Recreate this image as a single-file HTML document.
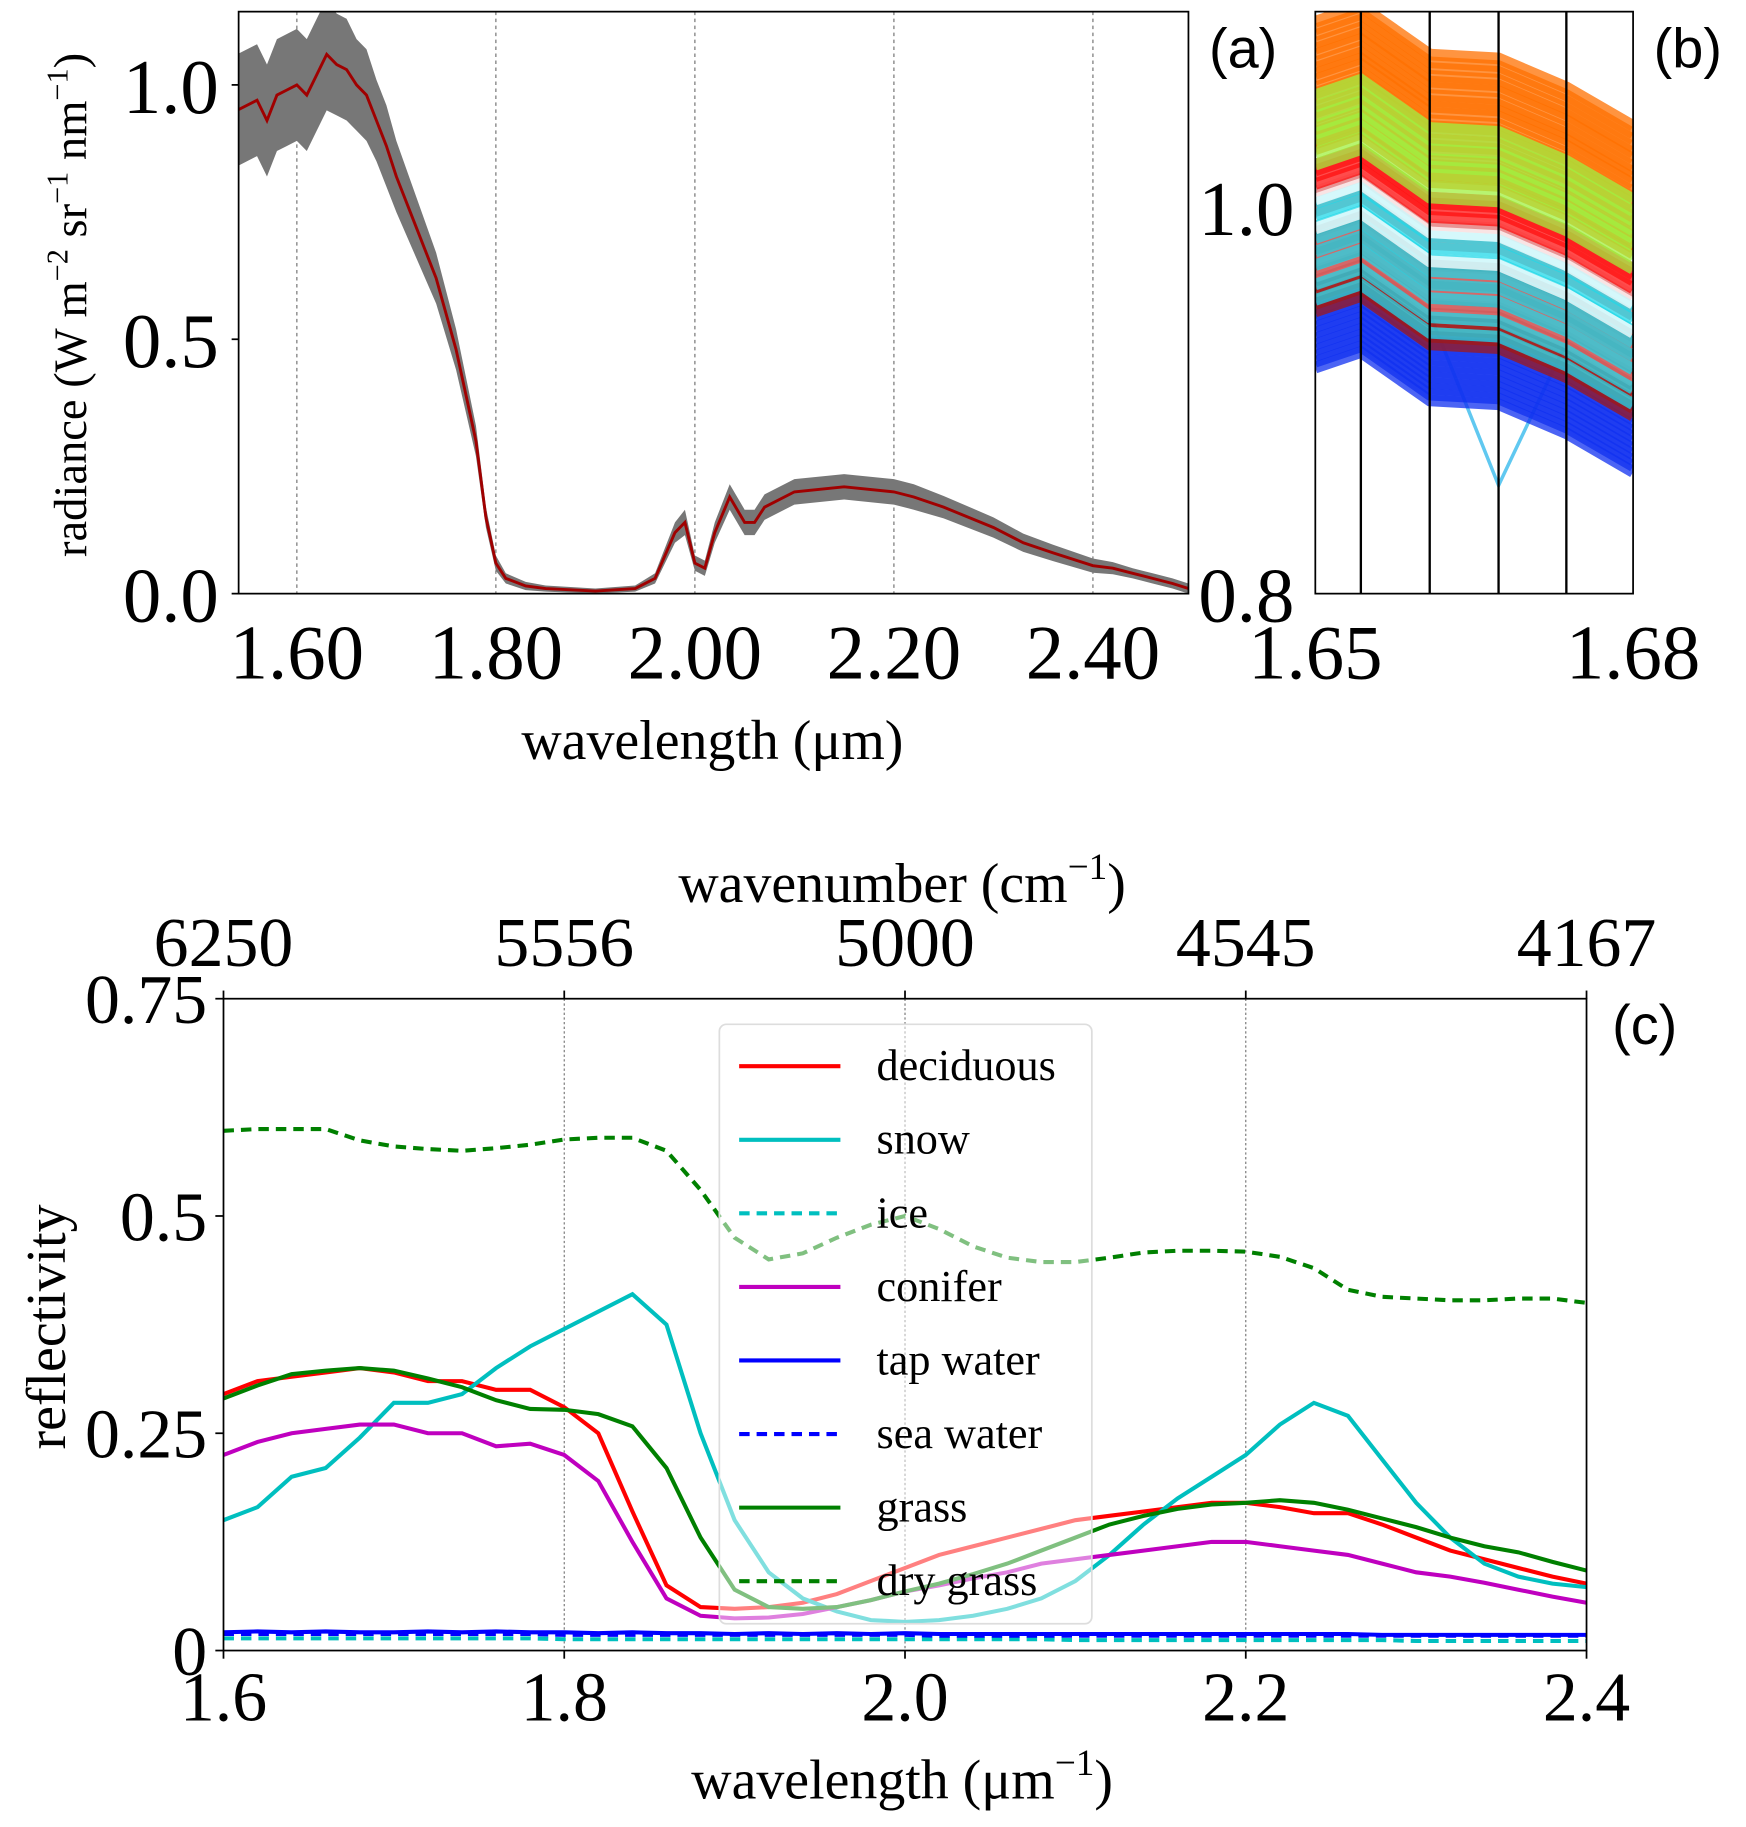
<!DOCTYPE html>
<html><head><meta charset="utf-8"><style>
html,body{margin:0;padding:0;background:#fff;}
svg{display:block;}
text{font-family:"Liberation Serif",serif;fill:#000;}
.lab{font-family:"Liberation Sans",sans-serif;}
</style></head><body>
<svg id="fig" width="1746" height="1827" viewBox="0 0 1500 1569.6" xmlns="http://www.w3.org/2000/svg">
<g id="pa"></g>
<g id="pb"></g>
<g id="pc"></g>
</svg>
<script>
// ---------- Panel (a) data ----------
const aWl = [1.54,1.56,1.57,1.58,1.59,1.60,1.61,1.62,1.63,1.64,1.65,1.66,1.67,1.68,1.69,1.70,1.72,1.74,1.76,1.78,1.79,1.80,1.81,1.83,1.85,1.90,1.94,1.96,1.98,1.99,2.00,2.01,2.02,2.035,2.05,2.06,2.07,2.10,2.15,2.20,2.22,2.25,2.30,2.33,2.36,2.40,2.42,2.44,2.46,2.48,2.496];
const aRad = [0.95,0.97,0.93,0.98,0.99,1.0,0.98,1.02,1.06,1.04,1.03,1.0,0.98,0.93,0.88,0.82,0.72,0.62,0.48,0.30,0.15,0.06,0.03,0.015,0.01,0.005,0.01,0.03,0.12,0.14,0.06,0.05,0.12,0.19,0.14,0.14,0.17,0.20,0.21,0.20,0.19,0.17,0.13,0.10,0.08,0.055,0.05,0.04,0.03,0.02,0.01];
const aSpread = [0.11,0.11,0.11,0.11,0.11,0.11,0.11,0.11,0.11,0.1,0.1,0.09,0.09,0.08,0.08,0.07,0.06,0.05,0.04,0.03,0.02,0.015,0.01,0.008,0.006,0.005,0.006,0.01,0.02,0.025,0.015,0.015,0.02,0.025,0.025,0.025,0.025,0.025,0.025,0.025,0.025,0.022,0.02,0.018,0.016,0.014,0.012,0.01,0.01,0.01,0.01];
const aXTicks = [1.60,1.80,2.00,2.20,2.40];
const aXTickLabels = ["1.60","1.80","2.00","2.20","2.40"];
const aYTicks = [0.0,0.5,1.0];
const aYTickLabels = ["0.0","0.5","1.0"];
// ---------- Panel (b) data ----------
const bWl = [1.65,1.6543,1.6608,1.6673,1.6737,1.68];
const bShape = [-0.008,0,-0.025,-0.027,-0.042,-0.062];
const bOrange = [1.104,1.100,1.097,1.093,1.090,1.087,1.083,1.080,1.077,1.074,1.070,1.067,1.064,1.060,1.057,1.054,1.050,1.047,1.044,1.041,1.038];
const bGreen = [1.066,1.060,1.055,1.050,1.046,1.042,1.036,1.030];
const bRed = [1.030,1.027,1.024,1.020];
const bWhite = [1.021,1.012,0.997];
const bCyan = [1.010,1.004,0.998,0.992,0.985,0.978,0.968,0.960];
const bSalmon = [1.016,1.006,0.990,0.980,0.972];
const bDarkRed = [0.995,0.990,0.985,0.980,0.975,0.970,0.966,0.962,0.958,0.954];
const bBlue = [0.958,0.955,0.952,0.949,0.946,0.943,0.940,0.937,0.934,0.931,0.928,0.925];
const bOutlier = [0.92,0.93,0.945,0.856,0.93,0.94];
const bXTicks = [1.65,1.68];
const bXTickLabels = ["1.65","1.68"];
const bYTicks = [0.8,1.0];
const bYTickLabels = ["0.8","1.0"];
// ---------- Panel (c) data ----------
const cWl = [1.60,1.62,1.64,1.66,1.68,1.70,1.72,1.74,1.76,1.78,1.80,1.82,1.84,1.86,1.88,1.90,1.92,1.94,1.96,1.98,2.00,2.02,2.04,2.06,2.08,2.10,2.12,2.14,2.16,2.18,2.20,2.22,2.24,2.26,2.28,2.30,2.32,2.34,2.36,2.38,2.40];
const deciduous = [0.295,0.31,0.315,0.32,0.325,0.32,0.31,0.31,0.30,0.30,0.28,0.25,0.16,0.075,0.05,0.048,0.05,0.055,0.065,0.08,0.095,0.11,0.12,0.13,0.14,0.15,0.155,0.16,0.165,0.17,0.17,0.165,0.158,0.158,0.145,0.13,0.115,0.105,0.095,0.085,0.077];
const snow = [0.15,0.165,0.20,0.21,0.245,0.285,0.285,0.295,0.325,0.35,0.37,0.39,0.41,0.375,0.25,0.15,0.09,0.06,0.045,0.035,0.033,0.035,0.04,0.048,0.06,0.08,0.11,0.145,0.175,0.20,0.225,0.26,0.285,0.27,0.22,0.17,0.13,0.10,0.085,0.077,0.073];
const ice = [0.014,0.014,0.014,0.014,0.014,0.014,0.014,0.014,0.014,0.014,0.013,0.013,0.013,0.013,0.013,0.013,0.013,0.013,0.013,0.013,0.013,0.013,0.013,0.013,0.013,0.012,0.012,0.012,0.012,0.012,0.012,0.012,0.012,0.012,0.012,0.011,0.011,0.011,0.011,0.011,0.011];
const conifer = [0.225,0.24,0.25,0.255,0.26,0.26,0.25,0.25,0.235,0.238,0.225,0.195,0.125,0.06,0.04,0.037,0.038,0.042,0.05,0.058,0.068,0.075,0.083,0.09,0.10,0.105,0.11,0.115,0.12,0.125,0.125,0.12,0.115,0.11,0.10,0.09,0.085,0.078,0.07,0.062,0.055];
const tapWater = [0.021,0.022,0.021,0.022,0.021,0.021,0.022,0.021,0.022,0.021,0.021,0.02,0.021,0.02,0.02,0.019,0.02,0.019,0.02,0.019,0.02,0.019,0.019,0.019,0.019,0.019,0.019,0.019,0.019,0.019,0.019,0.019,0.019,0.019,0.018,0.018,0.018,0.018,0.018,0.018,0.018];
const seaWater = [0.019,0.019,0.019,0.019,0.019,0.019,0.019,0.019,0.019,0.019,0.018,0.018,0.018,0.018,0.018,0.018,0.018,0.018,0.018,0.018,0.018,0.017,0.017,0.017,0.017,0.017,0.017,0.017,0.017,0.017,0.017,0.017,0.017,0.017,0.017,0.017,0.017,0.017,0.017,0.017,0.017];
const grass = [0.29,0.305,0.318,0.322,0.325,0.322,0.313,0.303,0.288,0.278,0.277,0.272,0.258,0.21,0.13,0.07,0.05,0.048,0.05,0.058,0.068,0.077,0.088,0.10,0.115,0.13,0.145,0.155,0.163,0.168,0.17,0.173,0.17,0.162,0.152,0.142,0.13,0.12,0.113,0.102,0.092];
const dryGrass = [0.598,0.60,0.60,0.60,0.587,0.58,0.577,0.575,0.578,0.582,0.588,0.59,0.59,0.575,0.53,0.475,0.45,0.457,0.475,0.49,0.50,0.485,0.465,0.452,0.447,0.447,0.452,0.458,0.46,0.46,0.459,0.453,0.44,0.415,0.407,0.405,0.403,0.403,0.405,0.405,0.40];
const cXTicks = [1.6,1.8,2.0,2.2,2.4];
const cXTickLabels = ["1.6","1.8","2.0","2.2","2.4"];
const cTopLabels = ["6250","5556","5000","4545","4167"];
const cYTicks = [0,0.25,0.5,0.75];
const cYTickLabels = ["0","0.25","0.5","0.75"];

const NS="http://www.w3.org/2000/svg";
function mk(parent,tag,attrs,txt){const e=document.createElementNS(NS,tag);for(const k in attrs)e.setAttribute(k,attrs[k]);if(txt!==undefined)e.textContent=txt;parent.appendChild(e);return e;}
function pathD(xs,ys,sx,sy){return xs.map((x,i)=>(i?'L':'M')+sx(x).toFixed(2)+' '+sy(ys[i]).toFixed(2)).join(' ');}

// ===== Panel A =====
(function(){
const g=document.getElementById('pa');
const L=205,R=1021,T=10,B=510;
const sx=x=>L+(x-1.5415)/(2.496-1.5415)*(R-L);
const sy=y=>B-(y/1.144)*(B-T);
const cp=mk(g,'clipPath',{id:'clipA'});mk(cp,'rect',{x:L,y:T,width:R-L,height:B-T});
aXTicks.forEach((t,i)=>{
  const gl=mk(g,'line',{x1:sx(t),x2:sx(t),y1:T,y2:B,stroke:'#888','stroke-width':1.2,'stroke-dasharray':'3,3'});
  
  const tl=mk(g,'text',{x:sx(t),y:583,'font-size':66,'text-anchor':'middle'},aXTickLabels[i]);
  
});
aYTicks.forEach((t,i)=>{
  const tl=mk(g,'text',{x:188,y:sy(t)+24,'font-size':66,'text-anchor':'end'},aYTickLabels[i]);
  
  mk(g,'line',{x1:L-6,x2:L,y1:sy(t),y2:sy(t),stroke:'#000','stroke-width':1.5});
});
const upper=aRad.map((v,i)=>v+aSpread[i]), lower=aRad.map((v,i)=>Math.max(0,v-aSpread[i]));
let d=pathD(aWl,upper,sx,sy)+' '+aWl.slice().reverse().map((x,i)=>'L'+sx(x).toFixed(2)+' '+sy(lower[lower.length-1-i]).toFixed(2)).join(' ')+'Z';
const band=mk(g,'path',{d:d,fill:'#777','clip-path':'url(#clipA)'});

const ml=mk(g,'path',{d:pathD(aWl,aRad,sx,sy),fill:'none',stroke:'#a00000','stroke-width':2.5,'clip-path':'url(#clipA)'});

const fr=mk(g,'rect',{x:L,y:T,width:R-L,height:B-T,fill:'none',stroke:'#000','stroke-width':1.5});

const xl=mk(g,'text',{x:612,y:652,'font-size':48,'text-anchor':'middle'},'wavelength (μm)');

const yl=mk(g,'text',{x:0,y:0,'font-size':40,'text-anchor':'middle',transform:'translate(74,262) rotate(-90)'});
yl.innerHTML='radiance (W m<tspan font-size="26" dy="-16">−2</tspan><tspan dy="16"> sr</tspan><tspan font-size="26" dy="-16">−1</tspan><tspan dy="16"> nm</tspan><tspan font-size="26" dy="-16">−1</tspan><tspan dy="16">)</tspan>';

const pl=mk(g,'text',{x:1068,y:58,'font-size':48,'text-anchor':'middle','class':'lab'},'(a)');

})();

// ===== Panel B =====
(function(){
const g=document.getElementById('pb');
const L=1130,R=1403,T=10,B=510;
const sx=x=>L+(x-1.65)/(0.03)*(R-L);
const sy=y=>B-(y-0.8)/0.2*(B-178);
const cp=mk(g,'clipPath',{id:'clipB'});mk(cp,'rect',{x:L,y:T,width:R-L,height:B-T});
const ol=mk(g,'path',{d:pathD(bWl.slice(2,5),bOutlier.slice(2,5),sx,sy),fill:'none',stroke:'#60c8f0','stroke-width':3,'clip-path':'url(#clipB)'});

const groups=[[bBlue,'#1030f0'],[bDarkRed,'#a01818'],[bSalmon,'#e07070'],[bCyan,'#20d8e8'],[bWhite,'#ffffff'],[bRed,'#ff1010'],[bGreen,'#a0f040'],[bOrange,'#ff7000']];
const order=[0,1,2,3,4,5,7,6];
order.forEach(gi=>{
  const [arr,col]=groups[gi];
  arr.forEach(v=>{
    const ys=bShape.map(s=>v+s);
    const p=mk(g,'path',{d:pathD(bWl,ys,sx,sy),fill:'none',stroke:col,'stroke-width':10,'stroke-opacity':0.75,'clip-path':'url(#clipB)'});
    
  });
});
bWl.slice(1,5).forEach(w=>{
  const vl=mk(g,'line',{x1:sx(w),x2:sx(w),y1:T,y2:B,stroke:'#000','stroke-width':2});
  
});
const fr=mk(g,'rect',{x:L,y:T,width:R-L,height:B-T,fill:'none',stroke:'#000','stroke-width':1.5});

bXTicks.forEach((t,i)=>{const tl=mk(g,'text',{x:sx(t),y:583,'font-size':66,'text-anchor':'middle'},bXTickLabels[i]);
});
bYTicks.forEach((t,i)=>{const tl=mk(g,'text',{x:1112,y:sy(t)+24,'font-size':66,'text-anchor':'end'},bYTickLabels[i]);
});
const pl=mk(g,'text',{x:1450,y:58,'font-size':48,'text-anchor':'middle','class':'lab'},'(b)');

})();

// ===== Panel C =====
(function(){
const g=document.getElementById('pc');
const L=192,R=1363,T=858,B=1418;
const sx=x=>L+(x-1.6)/0.8*(R-L);
const sy=y=>B-y/0.75*(B-T);
const cp=mk(g,'clipPath',{id:'clipC'});mk(cp,'rect',{x:L,y:T,width:R-L,height:B-T});
cXTicks.forEach((t,i)=>{
  if(i>0&&i<cXTicks.length-1){const gl=mk(g,'line',{x1:sx(t),x2:sx(t),y1:T,y2:B,stroke:'#777','stroke-width':1,'stroke-dasharray':'2,2'});
  }
  const tl=mk(g,'text',{x:sx(t),y:1478,'font-size':60,'text-anchor':'middle'},cXTickLabels[i]);
  
  const tt=mk(g,'text',{x:sx(t),y:830,'font-size':60,'text-anchor':'middle'},cTopLabels[i]);
  
  mk(g,'line',{x1:sx(t),x2:sx(t),y1:B,y2:B+7,stroke:'#000','stroke-width':1.5});
  mk(g,'line',{x1:sx(t),x2:sx(t),y1:T,y2:T-7,stroke:'#000','stroke-width':1.5});
});
cYTicks.forEach((t,i)=>{
  const tl=mk(g,'text',{x:178,y:sy(t)+21,'font-size':60,'text-anchor':'end'},cYTickLabels[i]);
  
  mk(g,'line',{x1:L-7,x2:L,y1:sy(t),y2:sy(t),stroke:'#000','stroke-width':1.5});
});
const series=[
 ['deciduous',deciduous,'#ff0000',''],['snow',snow,'#00bfbf',''],['ice',ice,'#00bfbf','9,6'],
 ['conifer',conifer,'#bf00bf',''],['tap water',tapWater,'#0000ff',''],['sea water',seaWater,'#0000ff','9,6'],
 ['grass',grass,'#008000',''],['dry grass',dryGrass,'#008000','9,6']];
series.forEach(s=>{
  const p=mk(g,'path',{d:pathD(cWl,s[1],sx,sy),fill:'none',stroke:s[2],'stroke-width':3.5,'stroke-dasharray':s[3]||'none','clip-path':'url(#clipC)'});
  
});
const lg=mk(g,'g',{});

mk(lg,'rect',{x:618,y:880,width:320,height:515,rx:6,fill:'#fff','fill-opacity':0.5,stroke:'#ddd','stroke-width':1.5});
series.forEach((s,i)=>{
  const y=916+i*63.2;
  const e=mk(lg,'g',{});
  
  mk(e,'line',{x1:635,x2:722,y1:y,y2:y,stroke:s[2],'stroke-width':3.5,'stroke-dasharray':s[3]||'none'});
  mk(e,'text',{x:753,y:y+12,'font-size':38},s[0]);
});
const fr=mk(g,'rect',{x:L,y:T,width:R-L,height:B-T,fill:'none',stroke:'#000','stroke-width':1.5});

const xl=mk(g,'text',{x:775,y:1545,'font-size':48,'text-anchor':'middle'});
xl.innerHTML='wavelength (μm<tspan font-size="32" dy="-20">−1</tspan><tspan dy="20">)</tspan>';

const tx=mk(g,'text',{x:775,y:775,'font-size':48,'text-anchor':'middle'});
tx.innerHTML='wavenumber (cm<tspan font-size="32" dy="-20">−1</tspan><tspan dy="20">)</tspan>';

const yl=mk(g,'text',{x:0,y:0,'font-size':48,'text-anchor':'middle',transform:'translate(56,1140) rotate(-90)'},'reflectivity');

const pl=mk(g,'text',{x:1413,y:897,'font-size':48,'text-anchor':'middle','class':'lab'},'(c)');

})();
</script>
</body></html>
